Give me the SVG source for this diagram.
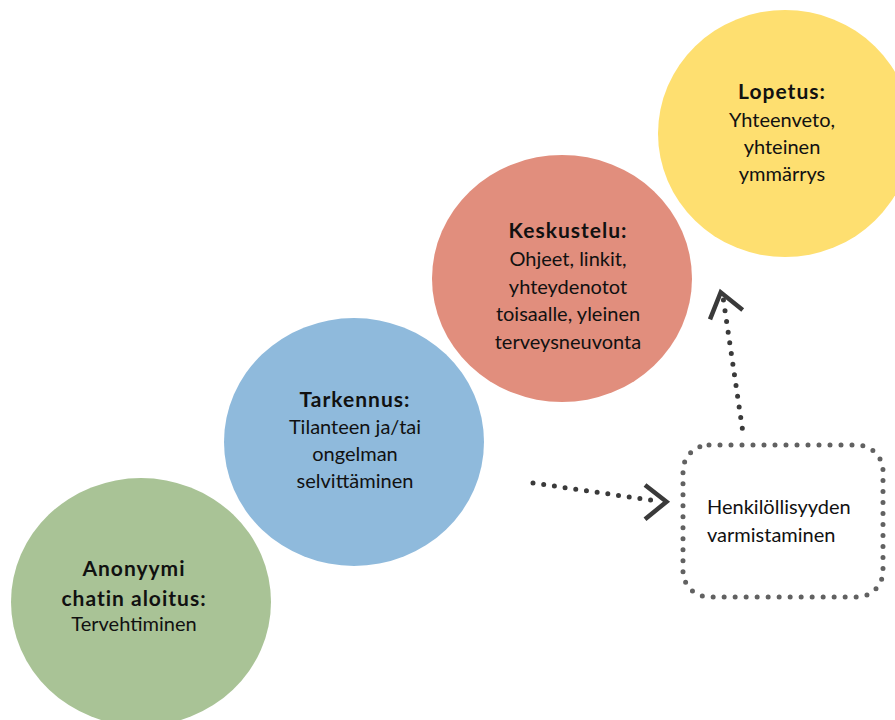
<svg xmlns="http://www.w3.org/2000/svg" width="895" height="720" viewBox="0 0 895 720">
<style>
  text { font-family: Lato, "Open Sans", "Liberation Sans", sans-serif; font-size: 20px; fill: #111; text-anchor: middle; }
  .b { font-weight: bold; font-size: 21px; letter-spacing: 1px; }
  .dots { fill: none; stroke: #3a3a3a; stroke-width: 5; stroke-linecap: round; stroke-dasharray: 0 10.8; }
  .chev { fill: none; stroke: #3a3a3a; stroke-width: 4.5; stroke-linecap: butt; stroke-linejoin: miter; }
  .box { fill: #fff; stroke: #616161; stroke-width: 5; stroke-linecap: round; stroke-dasharray: 0 11; }
</style>
<rect width="895" height="720" fill="#fff"/>
<g id="node-green">
  <ellipse cx="141" cy="602" rx="130" ry="124" fill="#A9C396"/>
  <text x="134" y="576" class="b">Anonyymi</text>
  <text x="134" y="606" class="b">chatin aloitus:</text>
  <text x="134" y="631">Tervehtiminen</text>
</g>
<g id="node-blue">
  <ellipse cx="354" cy="442" rx="130" ry="124" fill="#8FBADC"/>
  <text x="355" y="407" class="b">Tarkennus:</text>
  <text x="355" y="434">Tilanteen ja/tai</text>
  <text x="355" y="461">ongelman</text>
  <text x="355" y="488">selvittäminen</text>
</g>
<g id="node-red">
  <ellipse cx="562" cy="278.5" rx="130" ry="123.5" fill="#E18E7D"/>
  <text x="568" y="238" class="b">Keskustelu:</text>
  <text x="568" y="266">Ohjeet, linkit,</text>
  <text x="568" y="293.5">yhteydenotot</text>
  <text x="568" y="321">toisaalle, yleinen</text>
  <text x="568" y="348.5">terveysneuvonta</text>
</g>
<g id="node-yellow">
  <ellipse cx="785" cy="133.5" rx="127" ry="123.5" fill="#FEDF70"/>
  <text x="782" y="99" class="b">Lopetus:</text>
  <text x="782" y="126.5">Yhteenveto,</text>
  <text x="782" y="154">yhteinen</text>
  <text x="782" y="181">ymmärrys</text>
</g>
<g id="node-box">
  <rect x="683" y="445" width="200" height="152" rx="26" ry="26" class="box"/>
  <text x="707" y="514" style="text-anchor:start">Henkilöllisyyden</text>
  <text x="707" y="541.5" style="text-anchor:start">varmistaminen</text>
</g>
<g id="connectors">
  <line x1="533" y1="483" x2="657" y2="501" class="dots"/>
  <polyline points="645,485 666.5,501.7 645,519.3" class="chev"/>
  <line x1="742.3" y1="428.3" x2="723" y2="297" class="dots"/>
  <polyline points="710,319.3 720.7,292.3 742.7,310" class="chev"/>
</g>
</svg>
